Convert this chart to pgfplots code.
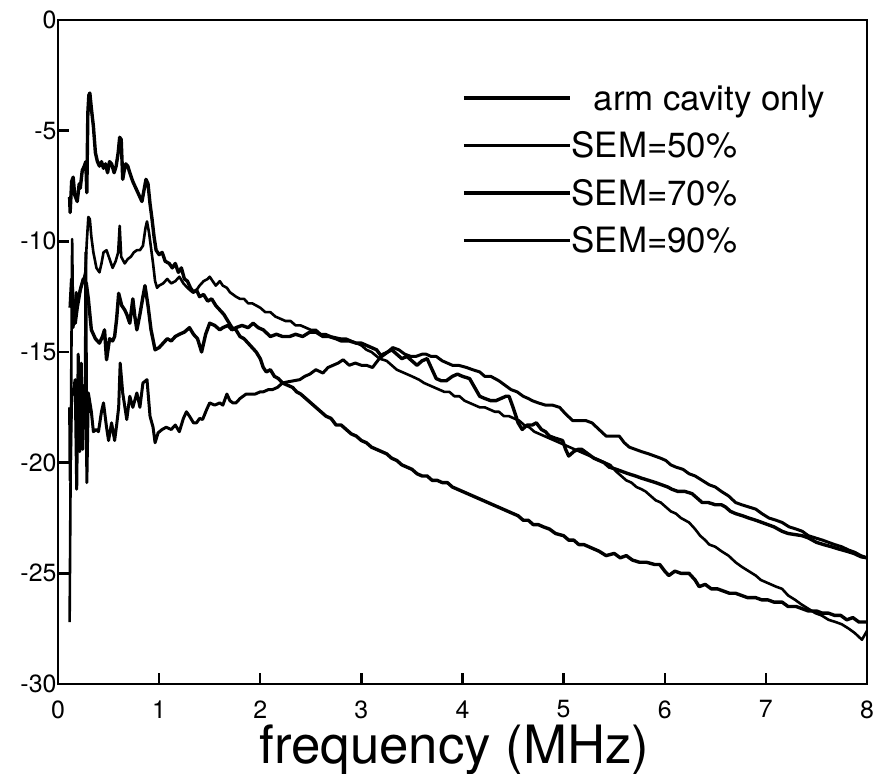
\documentclass[border=0pt]{standalone}
\usepackage{fontspec}
\setmainfont{TeX Gyre Heros}
\usepackage{pgfplots}
\pgfplotsset{compat=1.18}
\begin{document}
\begin{tikzpicture}
\begin{axis}[
  name=main,
  width=809bp, height=664bp, scale only axis,
  axis line style={line width=2.8bp},
  xmin=0, xmax=8, ymin=-30, ymax=0,
  xtick={0,1,2,3,4,5,6,7,8},
  xticklabels={0,1,2,3,4,5,6,7,8},
  ytick={-30,-25,-20,-15,-10,-5,0},
  yticklabels={-30,-25,-20,-15,-10,-5,0},
  xtick pos=bottom, ytick pos=left,
  tick align=inside,
  major tick length=11bp,
  tick style={black, line width=2.4bp},
  ticklabel style={font=\fontsize{25}{25}\selectfont},
  xticklabel style={yshift=-13bp},
  yticklabel style={xshift=2bp},
  xlabel={frequency (MHz)},
  xlabel style={font=\fontsize{53}{53}\selectfont, at={(axis description cs:0.49,0)}, anchor=base, yshift=-79bp},
  legend cell align=left,
  legend image code/.code={\draw[#1] (0bp,0bp) -- (106bp,0bp);},
  legend style={draw=none, fill=none, at={(axis description cs:0.4994,0.903)}, anchor=north west,
    font=\fontsize{35}{35}\selectfont, row sep=20bp, inner sep=0pt, nodes={inner sep=0pt}},
  every axis plot/.append style={black, line join=round},
]
% arm cavity only
\addplot[line width=3.4bp] table {
x y
0.115 -8.0
0.12 -8.7
0.135 -7.3
0.15 -7.1
0.165 -7.9
0.19 -8.2
0.21 -7.4
0.22 -7.6
0.24 -6.8
0.26 -6.6
0.275 -6.4
0.285 -7.8
0.295 -4.2
0.305 -3.4
0.315 -3.3
0.33 -4.0
0.35 -4.8
0.37 -6.0
0.39 -6.4
0.41 -6.6
0.43 -6.4
0.45 -6.7
0.47 -6.5
0.49 -6.9
0.51 -6.4
0.53 -6.5
0.555 -6.9
0.575 -6.6
0.595 -6.0
0.61 -5.3
0.625 -5.4
0.64 -7.2
0.655 -6.8
0.67 -6.5
0.69 -6.6
0.71 -6.9
0.74 -7.3
0.77 -7.6
0.80 -7.9
0.83 -8.2
0.85 -7.7
0.87 -7.2
0.89 -7.4
0.91 -8.3
0.93 -9.0
0.95 -9.8
0.97 -10.4
1.0 -10.6
1.03 -10.5
1.06 -10.9
1.1 -11.0
1.13 -11.2
1.16 -11.0
1.19 -11.4
1.22 -11.2
1.25 -11.7
1.28 -11.8
1.31 -12.1
1.34 -12.3
1.37 -12.2
1.40 -12.5
1.44 -12.4
1.48 -12.7
1.52 -12.6
1.56 -12.9
1.6 -13.1
1.64 -13.3
1.68 -13.6
1.72 -13.9
1.76 -14.0
1.8 -14.3
1.84 -14.4
1.88 -14.6
1.92 -14.8
1.96 -15.0
2.0 -15.3
2.03 -15.7
2.06 -15.9
2.1 -15.8
2.14 -16.1
2.18 -16.2
2.22 -16.4
2.27 -16.5
2.32 -16.6
2.36 -16.8
2.4 -16.9
2.45 -17.1
2.5 -17.3
2.55 -17.5
2.6 -17.7
2.65 -17.9
2.7 -18.0
2.75 -18.3
2.8 -18.3
2.85 -18.5
2.9 -18.7
2.95 -18.8
3.0 -19.0
3.05 -19.1
3.1 -19.3
3.15 -19.4
3.2 -19.5
3.25 -19.6
3.3 -19.8
3.35 -19.9
3.4 -20.1
3.45 -20.2
3.5 -20.3
3.55 -20.5
3.6 -20.6
3.65 -20.6
3.7 -20.8
3.75 -20.8
3.8 -20.9
3.85 -20.9
3.9 -21.1
3.95 -21.2
4.0 -21.3
4.05 -21.4
4.1 -21.5
4.15 -21.6
4.2 -21.7
4.25 -21.8
4.3 -21.9
4.35 -22.0
4.4 -22.1
4.45 -22.2
4.5 -22.3
4.55 -22.4
4.6 -22.6
4.65 -22.6
4.7 -22.8
4.75 -22.8
4.8 -22.9
4.86 -23.0
4.92 -23.2
5.0 -23.3
5.05 -23.5
5.1 -23.5
5.15 -23.7
5.2 -23.7
5.25 -23.8
5.3 -23.9
5.35 -24.0
5.42 -24.2
5.5 -24.1
5.56 -24.3
5.62 -24.2
5.68 -24.4
5.75 -24.5
5.82 -24.5
5.9 -24.6
5.95 -24.6
6.0 -24.9
6.04 -25.1
6.1 -24.9
6.16 -25.0
6.24 -25.0
6.3 -25.3
6.34 -25.6
6.4 -25.5
6.46 -25.7
6.52 -25.7
6.58 -25.8
6.64 -25.9
6.7 -25.9
6.76 -26.0
6.82 -26.1
6.9 -26.1
6.96 -26.2
7.02 -26.2
7.08 -26.3
7.16 -26.3
7.22 -26.5
7.3 -26.5
7.36 -26.6
7.42 -26.7
7.5 -26.7
7.56 -26.8
7.62 -26.8
7.68 -26.9
7.74 -26.9
7.8 -27.1
7.86 -27.0
7.92 -27.2
8.0 -27.2
};
\addlegendentry{\hspace*{22bp}arm cavity only}
% SEM=50%
\addplot[line width=2.6bp] table {
x y
0.115 -27.2
0.14 -9.9
0.15 -13.9
0.165 -13.5
0.18 -12.3
0.2 -12.6
0.23 -12.0
0.25 -11.8
0.27 -11.4
0.285 -10.0
0.3 -8.9
0.315 -9.0
0.33 -9.8
0.35 -10.5
0.38 -11.2
0.41 -11.4
0.43 -11.0
0.45 -10.5
0.48 -10.4
0.51 -10.8
0.54 -11.2
0.57 -10.9
0.595 -10.5
0.61 -9.3
0.625 -10.7
0.66 -11.0
0.69 -10.8
0.72 -10.7
0.75 -10.5
0.78 -10.4
0.81 -10.4
0.84 -10.2
0.865 -9.4
0.88 -9.1
0.9 -9.6
0.92 -10.3
0.94 -11.0
0.96 -11.8
0.98 -12.1
1.0 -12.0
1.04 -11.9
1.08 -11.7
1.12 -11.9
1.16 -11.8
1.2 -11.6
1.24 -11.9
1.28 -12.1
1.33 -12.3
1.37 -12.2
1.4 -12.0
1.44 -11.8
1.48 -11.7
1.5 -11.6
1.53 -11.8
1.56 -12.0
1.6 -11.8
1.63 -12.0
1.67 -12.1
1.7 -12.3
1.73 -12.4
1.76 -12.5
1.8 -12.6
1.84 -12.6
1.88 -12.8
1.92 -12.8
1.96 -12.9
2.0 -13.0
2.05 -13.2
2.1 -13.2
2.15 -13.4
2.2 -13.5
2.25 -13.6
2.3 -13.6
2.35 -13.8
2.4 -13.8
2.45 -13.9
2.5 -14.0
2.55 -14.0
2.6 -14.2
2.65 -14.2
2.7 -14.3
2.75 -14.35
2.8 -14.4
2.85 -14.4
2.9 -14.5
2.95 -14.6
3.0 -14.7
3.05 -14.9
3.1 -15.0
3.18 -15.3
3.25 -15.4
3.3 -15.6
3.35 -15.8
3.4 -15.9
3.45 -16.0
3.5 -16.1
3.57 -16.25
3.62 -16.4
3.67 -16.5
3.72 -16.6
3.77 -16.7
3.82 -16.8
3.87 -16.8
3.92 -17.0
3.97 -17.0
4.02 -17.2
4.07 -17.3
4.12 -17.4
4.17 -17.5
4.22 -17.5
4.27 -17.6
4.32 -17.7
4.36 -17.7
4.41 -17.9
4.46 -17.9
4.51 -18.0
4.56 -18.1
4.61 -18.3
4.66 -18.4
4.71 -18.6
4.76 -18.7
4.81 -18.8
4.86 -18.9
4.91 -19.0
4.96 -19.1
5.01 -19.2
5.06 -19.3
5.11 -19.4
5.16 -19.5
5.21 -19.6
5.26 -19.7
5.31 -19.8
5.36 -19.9
5.41 -20.0
5.46 -20.1
5.52 -20.4
5.57 -20.6
5.62 -20.8
5.67 -20.9
5.72 -21.1
5.77 -21.2
5.81 -21.3
5.86 -21.5
5.91 -21.7
5.96 -21.8
6.01 -22.0
6.06 -22.2
6.11 -22.3
6.16 -22.5
6.2 -22.6
6.24 -22.7
6.3 -23.0
6.35 -23.3
6.4 -23.5
6.44 -23.7
6.5 -23.8
6.56 -24.0
6.63 -24.2
6.7 -24.5
6.76 -24.7
6.83 -24.9
6.9 -25.1
6.95 -25.3
7.0 -25.4
7.05 -25.5
7.1 -25.6
7.16 -25.7
7.22 -26.0
7.29 -26.2
7.35 -26.4
7.42 -26.6
7.49 -26.8
7.55 -26.9
7.62 -27.1
7.69 -27.2
7.75 -27.3
7.82 -27.5
7.88 -27.7
7.95 -28.0
8.0 -27.6
};
\addlegendentry{SEM=50\%}
% SEM=70%
\addplot[line width=3.4bp] table {
x y
0.12 -13.0
0.135 -11.7
0.15 -12.8
0.17 -13.7
0.19 -13.0
0.22 -12.2
0.25 -11.7
0.28 -11.9
0.3 -12.6
0.33 -14.0
0.37 -14.4
0.41 -14.6
0.44 -14.3
0.46 -14.0
0.48 -15.35
0.51 -14.4
0.54 -14.5
0.56 -14.3
0.58 -13.5
0.6 -12.35
0.63 -12.9
0.66 -13.1
0.68 -13.3
0.71 -13.7
0.74 -12.6
0.76 -13.4
0.78 -14.0
0.81 -13.3
0.84 -12.5
0.86 -12.0
0.89 -12.9
0.92 -14.0
0.96 -14.9
1.0 -14.8
1.04 -14.6
1.08 -14.4
1.12 -14.5
1.16 -14.3
1.2 -14.2
1.25 -14.1
1.3 -13.9
1.34 -14.2
1.38 -14.4
1.42 -15.0
1.46 -14.2
1.5 -13.7
1.55 -13.8
1.6 -14.0
1.63 -13.9
1.68 -13.8
1.72 -14.0
1.76 -13.9
1.82 -13.8
1.88 -13.9
1.93 -13.7
1.98 -13.9
2.03 -14.0
2.1 -14.3
2.16 -14.2
2.22 -14.3
2.29 -14.3
2.35 -14.2
2.42 -14.3
2.49 -14.1
2.55 -14.1
2.62 -14.3
2.68 -14.3
2.75 -14.4
2.8 -14.5
2.88 -14.5
2.95 -14.6
3.0 -14.6
3.05 -14.7
3.1 -14.8
3.15 -14.9
3.2 -15.2
3.26 -15.0
3.3 -14.9
3.35 -15.1
3.4 -15.3
3.45 -15.2
3.5 -15.4
3.55 -15.6
3.6 -15.4
3.65 -15.3
3.7 -15.8
3.74 -16.2
3.79 -16.3
3.84 -16.3
3.9 -16.1
3.95 -16.0
4.0 -16.1
4.07 -16.2
4.12 -16.6
4.17 -17.0
4.22 -17.1
4.28 -17.2
4.33 -17.2
4.38 -17.1
4.43 -17.0
4.46 -17.0
4.5 -17.5
4.55 -18.2
4.59 -18.5
4.64 -18.3
4.69 -18.3
4.73 -18.2
4.78 -18.5
4.82 -18.6
4.86 -18.8
4.92 -18.9
4.99 -19.0
5.02 -19.4
5.05 -19.7
5.1 -19.5
5.14 -19.4
5.18 -19.4
5.24 -19.6
5.3 -19.8
5.35 -19.9
5.4 -20.0
5.45 -20.2
5.52 -20.3
5.58 -20.4
5.64 -20.5
5.71 -20.6
5.77 -20.7
5.84 -20.8
5.91 -20.9
5.97 -21.0
6.03 -21.1
6.07 -21.2
6.13 -21.3
6.2 -21.3
6.27 -21.4
6.32 -21.6
6.37 -21.8
6.43 -21.8
6.5 -21.9
6.56 -21.9
6.6 -22.0
6.65 -22.2
6.7 -22.3
6.77 -22.4
6.83 -22.5
6.9 -22.6
6.96 -22.7
7.02 -22.8
7.08 -22.9
7.16 -23.1
7.22 -23.2
7.29 -23.25
7.36 -23.3
7.42 -23.4
7.5 -23.6
7.57 -23.7
7.65 -23.8
7.72 -23.9
7.8 -24.0
7.87 -24.1
7.94 -24.25
8.0 -24.3
};
\addlegendentry{SEM=70\%}
% SEM=90%
\addplot[line width=3.0bp] table {
x y
0.115 -17.5
0.12 -20.8
0.135 -17.0
0.15 -16.8
0.17 -16.25
0.185 -21.2
0.2 -15.1
0.215 -19.5
0.23 -15.5
0.245 -19.4
0.26 -16.5
0.27 -16.7
0.275 -10.5
0.285 -20.9
0.3 -16.85
0.33 -17.7
0.35 -18.6
0.38 -18.5
0.40 -18.6
0.43 -17.7
0.45 -17.3
0.48 -18.4
0.50 -19.0
0.53 -18.2
0.56 -19.0
0.58 -18.3
0.6 -17.5
0.615 -15.5
0.64 -16.85
0.68 -18.05
0.71 -17.0
0.74 -17.5
0.78 -16.85
0.81 -17.5
0.84 -16.4
0.88 -16.25
0.91 -17.9
0.94 -18.4
0.96 -19.1
0.99 -18.65
1.03 -18.5
1.07 -18.4
1.12 -18.5
1.16 -18.3
1.2 -18.6
1.24 -18.0
1.27 -17.7
1.3 -17.9
1.34 -18.2
1.37 -18.2
1.4 -18.0
1.43 -18.05
1.47 -17.6
1.5 -17.3
1.55 -17.4
1.6 -17.3
1.63 -17.4
1.67 -16.9
1.7 -17.2
1.73 -17.3
1.76 -17.3
1.8 -17.1
1.83 -17.0
1.86 -16.9
1.9 -16.9
1.95 -16.9
2.0 -16.8
2.03 -16.8
2.08 -16.7
2.12 -16.7
2.17 -16.6
2.22 -16.4
2.27 -16.35
2.33 -16.3
2.39 -16.25
2.44 -16.1
2.49 -16.0
2.55 -15.8
2.62 -15.95
2.67 -15.7
2.72 -15.6
2.77 -15.5
2.82 -15.35
2.88 -15.6
2.94 -15.5
3.0 -15.6
3.05 -15.6
3.11 -15.7
3.16 -15.4
3.21 -15.1
3.26 -15.0
3.31 -14.8
3.37 -14.9
3.43 -15.1
3.49 -15.2
3.54 -15.2
3.6 -15.1
3.64 -15.1
3.69 -15.2
3.74 -15.2
3.8 -15.4
3.85 -15.5
3.9 -15.6
3.96 -15.6
4.04 -15.7
4.1 -15.8
4.17 -15.9
4.22 -16.1
4.28 -16.1
4.32 -16.2
4.36 -16.3
4.42 -16.5
4.48 -16.7
4.54 -16.8
4.6 -17.0
4.65 -17.1
4.69 -17.2
4.75 -17.3
4.82 -17.4
4.89 -17.4
4.96 -17.5
5.02 -17.8
5.09 -18.1
5.15 -18.1
5.22 -18.1
5.28 -18.2
5.35 -18.5
5.42 -18.8
5.48 -18.8
5.55 -18.8
5.6 -19.1
5.65 -19.3
5.71 -19.4
5.77 -19.5
5.84 -19.6
5.9 -19.7
5.96 -19.8
6.01 -19.9
6.06 -20.1
6.11 -20.2
6.18 -20.3
6.24 -20.5
6.3 -20.6
6.37 -20.8
6.44 -21.0
6.5 -21.1
6.56 -21.3
6.63 -21.5
6.7 -21.8
6.76 -21.9
6.83 -22.0
6.9 -22.1
6.96 -22.3
7.03 -22.5
7.1 -22.6
7.16 -22.7
7.23 -22.9
7.3 -23.0
7.36 -23.1
7.42 -23.3
7.49 -23.4
7.56 -23.5
7.62 -23.6
7.68 -23.7
7.75 -23.8
7.82 -23.95
7.88 -24.05
7.94 -24.2
8.0 -24.3
};
\addlegendentry{SEM=90\%}
\end{axis}
\pgfresetboundingbox
\useasboundingbox ([shift={(-58bp,-89bp)}]main.south west) rectangle ([shift={(9bp,20bp)}]main.north east);
\end{tikzpicture}
\end{document}
